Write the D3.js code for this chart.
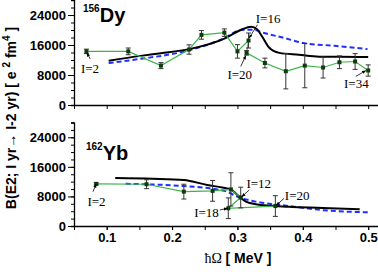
<!DOCTYPE html>
<html>
<head>
<meta charset="utf-8">
<script src="https://cdn.jsdelivr.net/npm/d3@7"></script>
<style>
  body { margin: 0; background: #fff; }
  text { font-family: "Liberation Sans", Arial, sans-serif; }
  .tick text { font-weight: bold; font-size: 13px; }
  .ann { font-family: "Liberation Serif", "Times New Roman", serif; font-size: 13px; }
</style>
</head>
<body>
<div id="chart"></div>
<script>
// 156Dy: experiment (I=2..16, 20..34), green line with error bars
const dyExpX = [0.069, 0.133, 0.183, 0.226, 0.245, 0.280, 0.300, 0.317, 0.314, 0.342, 0.374, 0.403, 0.431, 0.456, 0.480, 0.500];
const dyExpY = [14300, 14300, 10500, 14800, 18700, 19300, 14300, 17200, 13900, 11200, 9000, 10500, 10000, 11400, 11600, 9200];
const dyExpErr = [600, 900, 800, 1250, 1150, 1000, 1800, 2000, 600, 1300, 4700, 5900, 2800, 1700, 2100, 1500];
// 156Dy: theory curves
const dyCalcX = [0.103, 0.152, 0.183, 0.226, 0.280, 0.305, 0.321, 0.330, 0.338, 0.348, 0.364, 0.394, 0.425, 0.456, 0.500];
const dyCalcY = [11800, 13100, 13800, 14900, 17700, 20000, 20900, 20200, 18200, 15400, 13900, 13400, 12900, 12900, 12800];
const dyCalc2X = [0.103, 0.152, 0.226, 0.280, 0.305, 0.323, 0.341, 0.371, 0.402, 0.448, 0.499];
const dyCalc2Y = [11200, 12300, 14600, 17800, 20000, 20100, 19200, 17900, 16500, 15800, 14900];

// 162Yb: experiment (I=2..12, 18, 20)
const ybExpX = [0.084, 0.161, 0.218, 0.262, 0.290, 0.305, 0.286, 0.358];
const ybExpY = [11400, 11300, 9300, 9500, 9900, 7700, 4800, 5400];
const ybExpErr = [300, 1200, 2000, 2800, 4500, 2800, 2800, 2800];
// 162Yb: theory curves
const ybCalcX = [0.113, 0.170, 0.218, 0.254, 0.277, 0.290, 0.300, 0.313, 0.328, 0.379, 0.430, 0.487];
const ybCalcY = [13000, 12800, 12450, 11100, 10400, 9900, 8400, 6600, 5900, 5200, 4900, 4500];
const ybCalc2X = [0.129, 0.218, 0.280, 0.303, 0.328, 0.379, 0.430, 0.502];
const ybCalc2Y = [11400, 10800, 9500, 7700, 6600, 5400, 4300, 3700];

// axis ticks
const yMajorTicks = [0, 8000, 16000, 24000];
const yMinorTicks = d3.range(0, 28001, 2000);
const xMajorTicks = [0.1, 0.2, 0.3, 0.4, 0.5];
const xMinorTicks = [0.05, 0.1, 0.15, 0.2, 0.25, 0.3, 0.35, 0.4, 0.45, 0.5];

// spin labels: text position, arrow from ax to bx (data units)
const dyLabels = [
    { t: "I=2", x: 0.0606, y: 8610, ax: [0.0748, 12270], bx: [0.0697, 13870] },
    { t: "I=16", x: 0.328, y: 21950, ax: [0.3306, 21420], bx: [0.318, 17870] },
    { t: "I=20", x: 0.2847, y: 7010, ax: [0.305, 10290], bx: [0.3128, 13150] },
    { t: "I=34", x: 0.463, y: 4610, ax: [0.481, 7630], bx: [0.4963, 9150] }
];
const ybLabels = [
    { t: "I=2", x: 0.0706, y: 5410, ax: [0.0789, 9280], bx: [0.084, 11370] },
    { t: "I=12", x: 0.3138, y: 10280, ax: [0.318, 9740], bx: [0.3067, 7930] },
    { t: "I=20", x: 0.3725, y: 7040, ax: [0.3714, 7500], bx: [0.3596, 5600] },
    { t: "I=18", x: 0.2338, y: 2440, ax: [0.2731, 4330], bx: [0.2847, 4790] }
];

const width = 378, height = 272;

let svg = d3.select("#chart")
    .append("svg")
    .attr("width", width)
    .attr("height", height);

svg.append("defs").append("marker")
    .attr("id", "arrow")
    .attr("viewBox", "0 0 10 10")
    .attr("refX", 9).attr("refY", 5)
    .attr("markerWidth", 5).attr("markerHeight", 5)
    .attr("orient", "auto")
    .append("path")
    .attr("d", "M0,1 L10,5 L0,9 Z")
    .attr("fill", "#000");

let x = d3.scaleLinear().domain([0.05, 0.515]).range([74, 378]);

function drawPanel(yRange, expX, expY, expErr, calcX, calcY, calc2X, calc2Y, labels, showXLabels) {
    let y = d3.scaleLinear().domain([0, 28000]).range(yRange);
    let g = svg.append("g");

    // y axis
    g.append("g")
        .attr("transform", `translate(${x.range()[0]},0)`)
        .call(d3.axisLeft(y).tickValues(yMinorTicks).tickSize(3).tickFormat(""))
        .call(a => a.select(".domain").attr("stroke-width", 1.3));
    g.append("g")
        .attr("transform", `translate(${x.range()[0]},0)`)
        .call(d3.axisLeft(y).tickValues(yMajorTicks).tickSize(6).tickPadding(2).tickFormat(d3.format("d")))
        .call(a => a.select(".domain").remove());

    // x axis
    g.append("g")
        .attr("transform", `translate(0,${yRange[0]})`)
        .call(d3.axisBottom(x).tickValues(xMinorTicks).tickSize(4).tickSizeOuter(0).tickFormat(""))
        .call(a => a.select(".domain").attr("stroke-width", 1.3));
    if (showXLabels) {
        g.append("g")
            .attr("transform", `translate(0,${yRange[0]})`)
            .call(d3.axisBottom(x).tickValues(xMajorTicks).tickSize(4).tickPadding(3).tickFormat(d3.format(".1f")))
            .call(a => a.select(".domain").remove());
    }

    // theory: blue dashed
    let line = d3.line().curve(d3.curveMonotoneX);
    g.append("path")
        .attr("d", line(calc2X.map((d, i) => [x(d), y(calc2Y[i])])))
        .attr("fill", "none")
        .attr("stroke", "#1f2fff")
        .attr("stroke-width", 2)
        .attr("stroke-dasharray", "5,3");

    // theory: black
    g.append("path")
        .attr("d", line(calcX.map((d, i) => [x(d), y(calcY[i])])))
        .attr("fill", "none")
        .attr("stroke", "#000")
        .attr("stroke-width", 2);

    // experiment: green line
    g.append("path")
        .attr("d", d3.line()(expX.map((d, i) => [x(d), y(expY[i])])))
        .attr("fill", "none")
        .attr("stroke", "#3cb44b")
        .attr("stroke-width", 1.2);

    // error bars
    let pts = expX.map((d, i) => ({ x: d, y: expY[i], e: expErr[i] }));
    let eb = g.append("g").attr("stroke", "#333").attr("stroke-width", 1);
    eb.selectAll("line.v").data(pts).enter().append("line")
        .attr("x1", d => x(d.x)).attr("x2", d => x(d.x))
        .attr("y1", d => y(d.y - d.e)).attr("y2", d => y(d.y + d.e));
    eb.selectAll("line.t").data(pts).enter().append("line")
        .attr("x1", d => x(d.x) - 2.5).attr("x2", d => x(d.x) + 2.5)
        .attr("y1", d => y(d.y + d.e)).attr("y2", d => y(d.y + d.e));
    eb.selectAll("line.b").data(pts).enter().append("line")
        .attr("x1", d => x(d.x) - 2.5).attr("x2", d => x(d.x) + 2.5)
        .attr("y1", d => y(d.y - d.e)).attr("y2", d => y(d.y - d.e));

    g.selectAll("rect.pt").data(pts).enter().append("rect")
        .attr("x", d => x(d.x) - 2)
        .attr("y", d => y(d.y) - 2)
        .attr("width", 4).attr("height", 4)
        .attr("fill", "#103a10");

    // spin labels
    labels.forEach(function(l) {
        g.append("text").attr("class", "ann")
            .attr("x", x(l.x)).attr("y", y(l.y))
            .text(l.t);
        g.append("line")
            .attr("x1", x(l.ax[0])).attr("y1", y(l.ax[1]))
            .attr("x2", x(l.bx[0])).attr("y2", y(l.bx[1]))
            .attr("stroke", "#000").attr("stroke-width", 0.8)
            .attr("marker-end", "url(#arrow)");
    });
    return y;
}

drawPanel([105, 0], dyExpX, dyExpY, dyExpErr, dyCalcX, dyCalcY, dyCalc2X, dyCalc2Y, dyLabels, false);
drawPanel([226, 122.5], ybExpX, ybExpY, ybExpErr, ybCalcX, ybCalcY, ybCalc2X, ybCalc2Y, ybLabels, true);

// nucleus labels
function nucleus(px, py, mass, name) {
    let t = svg.append("text").attr("x", px).attr("y", py).style("font-weight", "bold");
    t.append("tspan").attr("font-size", 10).attr("dy", -10).text(mass);
    t.append("tspan").attr("font-size", 20).attr("dy", 10).text(name);
}
nucleus(83, 22, "156", "Dy");
nucleus(86, 160, "162", "Yb");

// y axis title
let yt = svg.append("text")
    .attr("transform", "translate(16,118) rotate(-90)")
    .attr("text-anchor", "middle")
    .style("font-weight", "bold")
    .style("font-size", "14px");
yt.append("tspan").text("B(E2; I yr\u2192 I-2 yr) [ e ");
yt.append("tspan").attr("font-size", 10).attr("dy", -6).text("2");
yt.append("tspan").attr("dy", 6).text(" fm");
yt.append("tspan").attr("font-size", 10).attr("dy", -6).text("4");
yt.append("tspan").attr("dy", 6).text(" ]");

// x axis title
let xt = svg.append("text")
    .attr("x", 238).attr("y", 263)
    .attr("text-anchor", "middle")
    .style("font-size", "14px");
xt.append("tspan").style("font-family", "Liberation Serif, serif").text("\u0127\u03A9 ");
xt.append("tspan").style("font-weight", "bold").text("[ MeV ]");
</script>
</body>
</html>
